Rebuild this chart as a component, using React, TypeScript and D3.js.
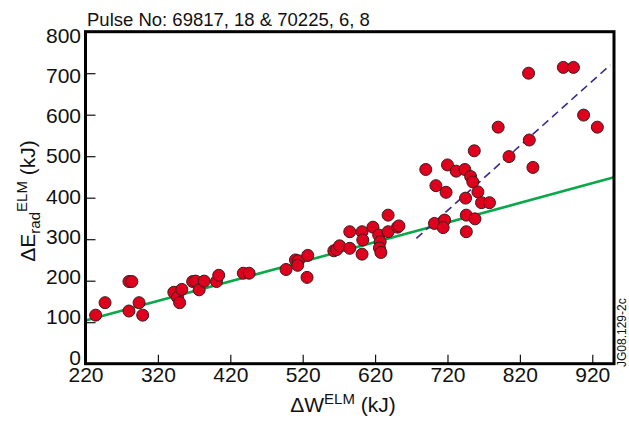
import { select, scaleLinear, axisBottom, axisLeft, line } from 'd3';
import React, { useRef, useEffect } from 'react';

const width = 629;
const height = 421;
const margin = { left: 85.5, right: 15, top: 31.7, bottom: 57.3 };

const xTicks = [220, 320, 420, 520, 620, 720, 820, 920];
const yTicks = [0, 100, 200, 300, 400, 500, 600, 700, 800];

// ELM energy drop (kJ) vs radiated energy (kJ)
const deltaW = [
  234, 247, 280, 280, 284, 294, 299,
  342, 347, 350, 353, 368, 372, 377, 384, 401, 404,
  438, 446,
  497, 510, 514, 513, 526, 527,
  563, 567, 571, 585, 585,
  602, 603, 602, 617, 625, 627, 626, 628, 638, 638, 651, 653,
  690, 704, 718, 720, 732, 744, 752, 755, 745, 762, 767, 778,
  702, 716, 714, 746, 758, 746,
  757, 790, 805, 833, 838, 832, 880, 894, 908, 927,
];
const deltaErad = [
  117, 147, 127, 198, 198, 147, 117,
  172, 160, 147, 179, 198, 199, 178, 199, 198, 213,
  218, 218,
  227, 250, 248, 237, 208, 261,
  272, 275, 284, 318, 278,
  318, 298, 264, 329, 310, 294, 279, 268, 358, 318, 329, 332,
  468, 429, 413, 479, 464, 468, 451, 438, 399, 414, 388, 388,
  338, 346, 328, 358, 349, 318,
  513, 570, 499, 539, 473, 700, 714, 714, 599, 570,
];

// fits
const fitW = [220, 950];
const fitE = [104, 449];
const steepW = [677, 945];
const steepE = [302, 720];

const font = '"Liberation Sans", Arial, Helvetica, sans-serif';

function App() {
  const ref = useRef(null);

  useEffect(() => {
    draw();
  }, []);

  const draw = () => {
    const svg = select(ref.current);
    svg.selectAll('*').remove();

    const x = scaleLinear().domain([220, 950]).range([margin.left, width - margin.right]);
    const y = scaleLinear().domain([0, 800]).range([height - margin.bottom, margin.top]);
    // the y tick labels sit a touch inside the tick span in the original
    const yLab = scaleLinear().domain([0, 800]).range([357.5, 35.5]);

    const ln = line()
      .x((d) => x(d[0]))
      .y((d) => y(d[1]));

    // green fit
    svg
      .append('path')
      .attr('d', ln(fitW.map((w, i) => [w, fitE[i]])))
      .attr('fill', 'none')
      .attr('stroke', '#0aa84a')
      .attr('stroke-width', 2.6);

    // dashed fit
    svg
      .append('path')
      .attr('d', ln(steepW.map((w, i) => [w, steepE[i]])))
      .attr('fill', 'none')
      .attr('stroke', '#3a2a8a')
      .attr('stroke-width', 1.6)
      .attr('stroke-dasharray', '8,5');

    svg
      .append('g')
      .selectAll('circle')
      .data(deltaW.map((w, i) => [w, deltaErad[i]]))
      .enter()
      .append('circle')
      .attr('cx', (d) => x(d[0]))
      .attr('cy', (d) => y(d[1]))
      .attr('r', 6)
      .attr('fill', '#e0001e')
      .attr('stroke', '#3a1c1c')
      .attr('stroke-width', 1);

    const gx = svg
      .append('g')
      .attr('transform', `translate(0,${height - margin.bottom})`)
      .call(axisBottom(x).tickValues(xTicks).tickSize(-9).tickPadding(3));
    const gy = svg
      .append('g')
      .attr('transform', `translate(${margin.left},0)`)
      .call(axisLeft(y).tickValues(yTicks).tickSize(-10).tickPadding(4.5));

    [gx, gy].forEach((g) => {
      g.select('.domain').remove();
      g.attr('font-family', font).attr('font-size', 21);
      g.selectAll('line').attr('stroke', '#111').attr('stroke-width', 1.2);
      g.selectAll('text').attr('fill', '#111');
    });
    gy.selectAll('.tick text').attr('y', (d) => yLab(d) - y(d));

    // frame
    svg
      .append('rect')
      .attr('x', margin.left)
      .attr('y', margin.top)
      .attr('width', width - margin.left - margin.right)
      .attr('height', height - margin.top - margin.bottom)
      .attr('fill', 'none')
      .attr('stroke', '#000')
      .attr('stroke-width', 3);

    svg
      .append('text')
      .attr('x', 87)
      .attr('y', 26)
      .attr('font-family', font)
      .attr('font-size', 18.5)
      .attr('fill', '#111')
      .text('Pulse No: 69817, 18 & 70225, 6, 8');

    const xl = svg
      .append('text')
      .attr('x', 343)
      .attr('y', 412)
      .attr('text-anchor', 'middle')
      .attr('font-family', font)
      .attr('font-size', 21)
      .attr('fill', '#111');
    xl.append('tspan').text('ΔW');
    xl.append('tspan').attr('font-size', 15).attr('dy', -8).text('ELM');
    xl.append('tspan').attr('dy', 8).text(' (kJ)');

    const yl = svg
      .append('text')
      .attr('transform', 'translate(35,201) rotate(-90)')
      .attr('text-anchor', 'middle')
      .attr('font-family', font)
      .attr('font-size', 21)
      .attr('fill', '#111');
    yl.append('tspan').text('ΔE');
    yl.append('tspan').attr('font-size', 15).attr('dy', 5).text('rad');
    yl.append('tspan').attr('font-size', 15).attr('dy', -13).text('ELM');
    yl.append('tspan').attr('dy', 8).text(' (kJ)');

    svg
      .append('text')
      .attr('transform', 'translate(626,367) rotate(-90)')
      .attr('font-family', font)
      .attr('font-size', 12)
      .attr('fill', '#111')
      .text('JG08.129-2c');
  };

  return (
    <svg
      ref={ref}
      width={width}
      height={height}
      style={{ position: 'absolute', left: 0, top: 0, background: '#fff' }}
    ></svg>
  );
}

export default App;
